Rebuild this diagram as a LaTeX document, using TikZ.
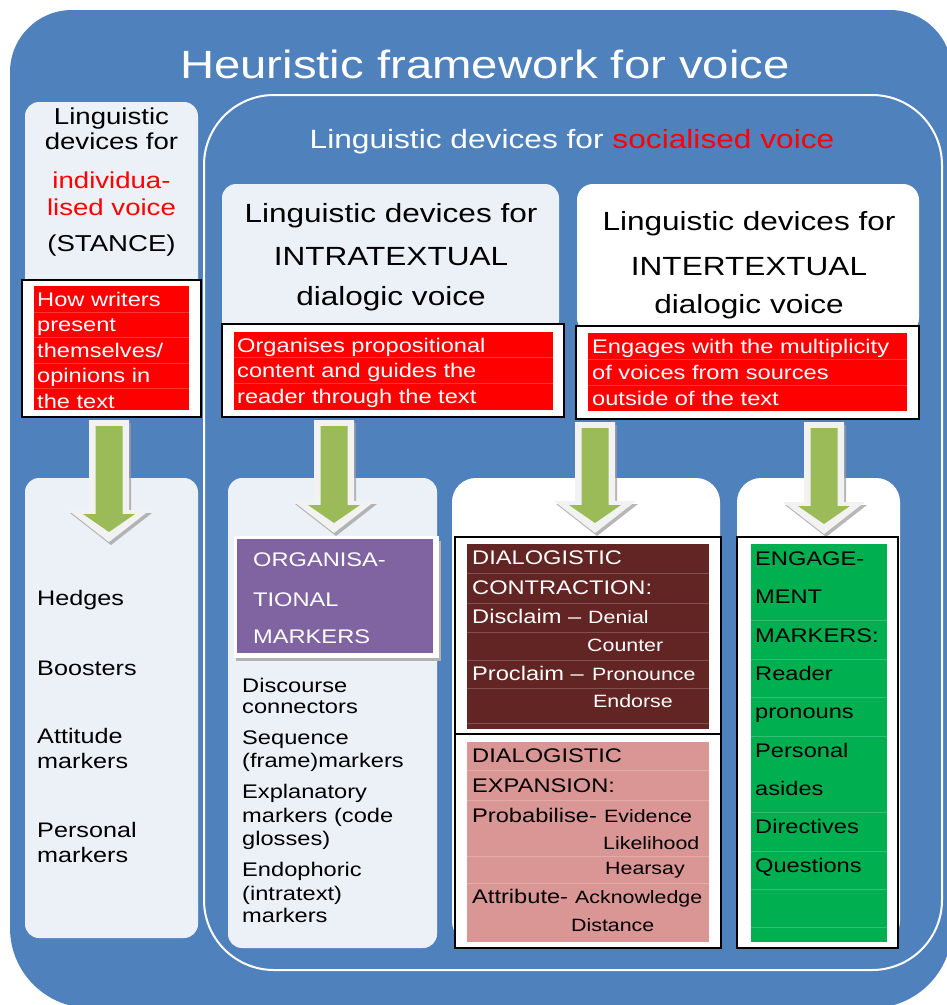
\documentclass[tikz,border=0pt]{standalone}
\usepackage{fontspec}
\setmainfont{Liberation Sans}[FakeStretch=1.2]
\usetikzlibrary{calc,positioning}

\definecolor{frameblue}{HTML}{4F81BD}
\definecolor{paleblue}{RGB}{236,241,247}
\definecolor{cellred}{HTML}{FF0000}
\definecolor{orgpurple}{HTML}{8064A2}
\definecolor{contrred}{HTML}{632523}
\definecolor{expanpink}{HTML}{D99694}
\definecolor{engagegreen}{HTML}{00B050}
\definecolor{arrowgreen}{HTML}{9BBB59}
\definecolor{arrowrim}{HTML}{F2F2F2}

\newcommand{\setfs}[1]{\fontsize{#1}{#1}\selectfont}

% block arrow from the bottom of a node down to a tip coordinate
\newcommand{\greenarrow}[2]{%
  \fill[black!40, opacity=0.7] let \p1=(#1), \p2=(#2) in
    (\x2-18pt,\y1-6pt) -- (\x2+22pt,\y1-6pt) -- (\x2+22pt,\y2+29pt) -- (\x2+43pt,\y2+29pt)
    -- (\x2+2pt,\y2-3pt) -- (\x2-39pt,\y2+29pt) -- (\x2-18pt,\y2+29pt) -- cycle;
  \fill[arrowrim] let \p1=(#1), \p2=(#2) in
    (\x2-20pt,\y1-3pt) -- (\x2+20pt,\y1-3pt) -- (\x2+20pt,\y2+32pt) -- (\x2+41pt,\y2+32pt)
    -- (\x2,\y2) -- (\x2-41pt,\y2+32pt) -- (\x2-20pt,\y2+32pt) -- cycle;
  \fill[arrowgreen] let \p1=(#1), \p2=(#2) in
    (\x2-13.5pt,\y1-9pt) -- (\x2+13.5pt,\y1-9pt) -- (\x2+13.5pt,\y2+28pt) -- (\x2+26pt,\y2+28pt)
    -- (\x2,\y2+10pt) -- (\x2-26pt,\y2+28pt) -- (\x2-13.5pt,\y2+28pt) -- cycle;
}

\tikzset{
  panel/.style={fill=paleblue, rounded corners=14pt, inner sep=0pt, outer sep=0pt, anchor=north west},
  whitepanel/.style={panel, fill=white, rounded corners=24pt},
  boxframe/.style={draw=black, fill=white, line width=1.1pt, inner sep=0pt, outer sep=0pt, anchor=north west},
  rowline/.style={white, opacity=0.2, line width=0.8pt},
  celltext/.style={anchor=base west, inner sep=0pt, font=\setfs{19.7}},
  subtext/.style={celltext, font=\setfs{17.8}},
  headtext/.style={anchor=base, inner sep=0pt, font=\setfs{26.3}},
}

\begin{document}
\begin{tikzpicture}[x=1pt, y=-1pt]

\useasboundingbox[fill=white] (0,0) rectangle (947,1005);

\fill[frameblue] (10,500) [rounded corners=62pt] -- (10,10) -- (952,10) [rounded corners=80pt] -- (952,1008) -- (10,1008) -- cycle;
\draw[white, line width=2pt, rounded corners=70pt] (204,95) rectangle (942,970);

\node[anchor=base, inner sep=0pt, white, font=\setfs{39.4}] (title) at (485,78) {Heuristic framework for voice};
\node[anchor=base, inner sep=0pt, white, font=\setfs{26.4}] (social) at (572,148) {Linguistic devices for \textcolor{cellred}{socialised voice}};

% header panels
\node[panel, minimum width=173pt, minimum height=200pt] (stance) at (25,102) {};
\node[panel, minimum width=337pt, minimum height=150pt] (intra) at (222,184) {};
\node[whitepanel, rounded corners=16pt, minimum width=342pt, minimum height=150pt] (inter) at (577,184) {};

\foreach \y/\t/\c [count=\i] in {124/Linguistic/black, 149/devices for/black, 188/individua-/cellred, 215/lised voice/cellred, 251/(STANCE)/black}
  \node[anchor=base, inner sep=0pt, font=\setfs{23}, text=\c] (stance\i) at (111.5,\y) {\t};

\node[headtext] (intra1) at (391,222) {Linguistic devices for};
\node[headtext] (intra2) at (391,265) {INTRATEXTUAL};
\node[headtext] (intra3) at (391,305) {dialogic voice};
\node[headtext] (inter1) at (749,230) {Linguistic devices for};
\node[headtext] (inter2) at (749,275) {INTERTEXTUAL};
\node[headtext] (inter3) at (749,313) {dialogic voice};

% red description boxes
\node[boxframe, minimum width=179pt, minimum height=137pt] (stanceframe) at (22,280) {};
\node[boxframe, minimum width=342pt, minimum height=93pt] (intraframe) at (222,324) {};
\node[boxframe, minimum width=343pt, minimum height=93pt] (interframe) at (576,326) {};

\fill[cellred] (34,286) rectangle (189,410);
\foreach \y in {312,337,363,388} \draw[rowline] (34,\y) -- (189,\y);
\foreach \y/\t [count=\i] in {306/How writers, 331/present, 357/{themselves/}, 382/opinions in, 408/the text}
  \node[celltext, white] (how\i) at (37,\y) {\t};

\fill[cellred] (234,332) rectangle (553,410);
\foreach \y in {357,383} \draw[rowline] (234,\y) -- (553,\y);
\foreach \y/\t [count=\i] in {352/Organises propositional, 377/content and guides the, 403/reader through the text}
  \node[celltext, white] (orgdesc\i) at (237,\y) {\t};

\fill[cellred] (588,333) rectangle (907,411);
\foreach \y in {359,385} \draw[rowline] (588,\y) -- (907,\y);
\foreach \y/\t [count=\i] in {353/Engages with the multiplicity, 379/of voices from sources, 405/outside of the text}
  \node[celltext, white] (engdesc\i) at (592,\y) {\t};

% lower panels
\node[panel, minimum width=173pt, minimum height=460pt] (stancelist) at (25,478) {};
\node[panel, minimum width=209pt, minimum height=470pt] (orglist) at (228,478) {};
\node[whitepanel, minimum width=268pt, minimum height=467pt] (dialog) at (452,478) {};
\node[whitepanel, minimum width=163pt, minimum height=467pt] (engage) at (737,478) {};

\coordinate (tip1) at (109,542);
\coordinate (tip2) at (334,533);
\coordinate (tip3) at (595,533);
\coordinate (tip4) at (824,534);
\greenarrow{stanceframe.south}{tip1}
\greenarrow{intraframe.south}{tip2}
\greenarrow{interframe.south}{tip3}
\greenarrow{interframe.south}{tip4}

\foreach \y/\t [count=\i] in {605/Hedges, 675/Boosters, 743/Attitude, 768/markers, 837/Personal, 862/markers}
  \node[celltext, font=\setfs{21}] (stanceitem\i) at (37,\y) {\t};

\fill[black!30] (236,541) rectangle (441,661);
\fill[white] (234,536) rectangle (439,658);
\node[panel, fill=orgpurple, rounded corners=0pt, minimum width=196pt, minimum height=114pt] (orgmarkers) at (237,539) {};
\foreach \y/\t [count=\i] in {566/ORGANISA-, 606/TIONAL, 643/MARKERS}
  \node[celltext, white] (orghead\i) at (253,\y) {\t};
\foreach \y/\t [count=\i] in {692/Discourse, 713/connectors, 744/Sequence, 767/(frame)markers, 798/Explanatory, 822/markers (code, 845/glosses), 876/Endophoric, 900/(intratext), 922/markers}
  \node[celltext] (orgitem\i) at (242,\y) {\t};

\node[boxframe, minimum width=266pt, minimum height=411pt] (dialogframe) at (455,537) {};
\draw[line width=1.1pt] (455,734) -- (721,734);

\fill[contrred] (467,544) rectangle (709,729);
\foreach \y in {573,603,632,660,688,723} \draw[rowline] (467,\y) -- (709,\y);
\foreach \y/\t [count=\i] in {564/DIALOGISTIC, 594/CONTRACTION:, 623/Disclaim –, 680/Proclaim –}
  \node[celltext, white] (contr\i) at (472,\y) {\t};
\foreach \x/\y/\t [count=\i] in {588/623/Denial, 587/651/Counter, 592/680/Pronounce, 593/707/Endorse}
  \node[subtext, white] (contrsub\i) at (\x,\y) {\t};

\fill[expanpink] (467,742) rectangle (709,942);
\foreach \y in {770,800,856,883} \draw[rowline] (467,\y) -- (709,\y);
\foreach \y/\t [count=\i] in {762/DIALOGISTIC, 792/EXPANSION:, 822/Probabilise-, 903/Attribute-}
  \node[celltext] (expan\i) at (472,\y) {\t};
\foreach \x/\y/\t [count=\i] in {604/822/Evidence, 603/849/Likelihood, 605/874/Hearsay, 575/903/Acknowledge, 571/931/Distance}
  \node[subtext] (expansub\i) at (\x,\y) {\t};

\node[boxframe, minimum width=161pt, minimum height=411pt] (engageframe) at (737,537) {};
\fill[engagegreen] (751,544) rectangle (887,942);
\foreach \y in {620,659,697,736,812,851,889,927} \draw[rowline] (751,\y) -- (887,\y);
\foreach \y/\t [count=\i] in {565/ENGAGE-, 603/MENT, 642/MARKERS:, 680/Reader, 718/pronouns, 757/Personal, 795/asides, 833/Directives, 872/Questions}
  \node[celltext] (engitem\i) at (755,\y) {\t};

\end{tikzpicture}
\end{document}
